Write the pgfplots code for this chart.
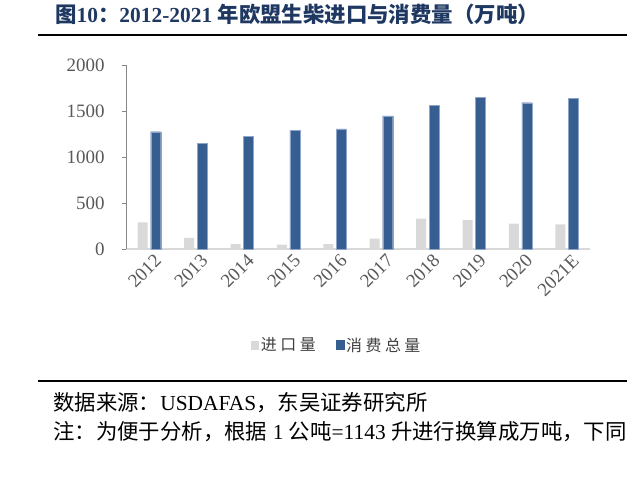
\documentclass[border=0pt]{standalone}
\usepackage{fontspec}
\setmainfont{Liberation Serif}
\newfontfamily\cjk{Noto Sans CJK SC}
\newfontfamily\cjkls{Noto Sans CJK SC}[LetterSpace=22]
\usepackage{pgfplots}
\pgfplotsset{compat=1.18}
\definecolor{barblue}{RGB}{54,94,145}
\definecolor{bargray}{RGB}{217,217,217}
\definecolor{titleblue}{RGB}{31,56,98}
\definecolor{ticktext}{RGB}{89,89,89}
\definecolor{legtext}{RGB}{64,64,64}
\definecolor{axisgray}{RGB}{134,134,134}
\begin{document}
\begin{tikzpicture}
\useasboundingbox (0bp,0bp) rectangle (641bp,-481bp);
\node[anchor=west, text=titleblue, font=\fontsize{21.5}{24}\selectfont\bfseries, inner sep=0] at (55bp,-14bp) {{\cjk 图}10{\cjk ：}2012-2021 {\cjk 年欧盟生柴进口与消费量（万吨）}};
\draw[line width=2bp] (38bp,-35bp) -- (627bp,-35bp);
\draw[line width=2bp] (38bp,-381bp) -- (627bp,-381bp);
\node[anchor=west, font=\fontsize{21.5}{24}\selectfont, inner sep=0] at (53bp,-403bp) {{\cjk 数据来源：}USDAFAS{\cjk ，东吴证券研究所}};
\node[anchor=west, font=\fontsize{21.5}{24}\selectfont, inner sep=0] at (53bp,-432bp) {{\cjk 注：为便于分析，根据} 1 {\cjk 公吨}=1143 {\cjk 升进行换算成万吨，下同}};
\begin{axis}[
  at={(126bp,-249bp)}, anchor=south west,
  scale only axis, width=464bp, height=184bp,
  ybar=3bp, bar width=10bp,
  xmin=-0.5, xmax=9.5, ymin=0, ymax=2000,
  enlargelimits=false,
  xtick={0,...,9},
  xticklabels={2012,2013,2014,2015,2016,2017,2018,2019,2020,2021E},
  ytick={0,500,1000,1500,2000},
  axis x line*=bottom, axis y line*=left,
  x axis line style={draw=bargray, line width=1.2bp},
  y axis line style={draw=axisgray, line width=0.8bp},
  xtick style={draw=none},
  ytick style={draw=axisgray, line width=0.8bp},
  tick align=outside, major tick length=4bp,
  /pgf/number format/assume math mode=true,
  /pgf/number format/1000 sep={},
  scaled y ticks=false,
  tick label style={font=\fontsize{19}{21}\selectfont, text=ticktext},
  yticklabel style={xshift=-14bp},
  xticklabel style={rotate=45, anchor=north east, inner sep=1bp, xshift=4bp, yshift=-2bp},
  legend style={at={(0.454,-0.522)}, anchor=center, draw=none, fill=none,
    legend columns=2, font=\fontsize{16}{18}\selectfont\cjkls, text=legtext,
    /tikz/every even column/.append style={column sep=18bp}},
  legend cell align=left,
]
\addplot[fill=bargray, draw=none, legend image code/.code={\fill[bargray] (0bp,-4.5bp) rectangle (8bp,4.5bp);}]
  coordinates {(0,290) (1,120) (2,54) (3,47) (4,52) (5,112) (6,330) (7,315) (8,275) (9,268)};
\addlegendentry{进口量}
\addplot[fill=barblue, draw={rgb,255:red,140;green,165;blue,200}, line width=0.4bp, legend image code/.code={\fill[barblue] (0bp,-4.5bp) rectangle (8bp,4.5bp);}]
  coordinates {(0,1275) (1,1145) (2,1221) (3,1286) (4,1306) (5,1446) (6,1558) (7,1645) (8,1590) (9,1634)};
\addlegendentry{消费总量}
\end{axis}
\end{tikzpicture}
\end{document}
